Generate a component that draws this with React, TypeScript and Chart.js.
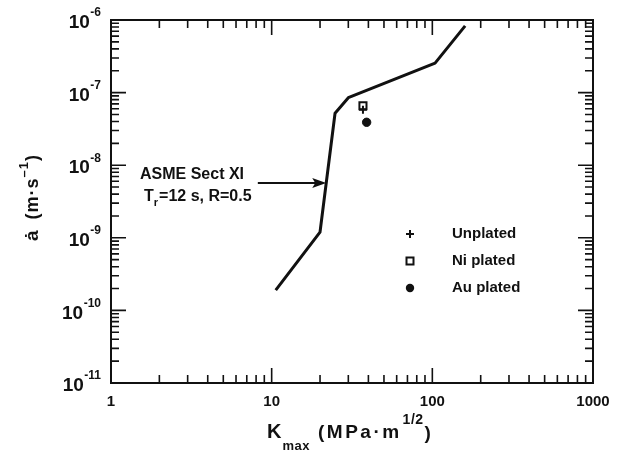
import { useEffect, useRef } from 'react';
import { Chart, registerables } from 'chart.js';

Chart.register(...registerables);

// ASME Sect XI reference curve: K_max (MPa·m^1/2) vs crack growth rate (m/s)
const curveK = [10.6, 20, 24.8, 30, 104, 160];
const curveRate = [1.9e-10, 1.2e-9, 5.2e-8, 8.5e-8, 2.55e-7, 8.3e-7];

// Measured specimens
const unplatedK = [37];
const unplatedRate = [5.8e-8];
const niPlatedK = [37];
const niPlatedRate = [6.6e-8];
const auPlatedK = [39];
const auPlatedRate = [3.9e-8];

// Axis ticks
const xTickValues = [1, 10, 100, 1000];
const xTickLabels = ['1', '10', '100', '1000'];
const yTickExponents = [-6, -7, -8, -9, -10, -11];

const legendLabels = ['Unplated', 'Ni plated', 'Au plated'];
const noteTitle = 'ASME Sect XI';
const noteArrowRate = 5.7e-9;
const noteArrowFromK = 8.2;

const FAMILY = '"Liberation Sans", Arial, Helvetica, sans-serif';
const bold = (size: number) => `bold ${size}px ${FAMILY}`;
const INK = '#111';

const pts = (xs: number[], ys: number[]) => xs.map((x, i) => ({ x, y: ys[i] }));

// K value where the curve crosses a given rate (log-log interpolation)
function curveKAt(rate: number): number {
  const ly = Math.log10(rate);
  for (let i = 0; i < curveK.length - 1; i++) {
    const a = Math.log10(curveRate[i]);
    const b = Math.log10(curveRate[i + 1]);
    if (ly >= a && ly <= b) {
      const t = (ly - a) / (b - a);
      const lx = Math.log10(curveK[i]) + t * (Math.log10(curveK[i + 1]) - Math.log10(curveK[i]));
      return Math.pow(10, lx);
    }
  }
  return curveK[0];
}

const figurePlugin = {
  id: 'figureOverlay',
  afterDatasetsDraw(chart: any) {
    const { ctx, chartArea: a, scales } = chart;
    const xs = scales.x;
    const ys = scales.y;
    ctx.save();

    // frame
    ctx.strokeStyle = INK;
    ctx.lineWidth = 2;
    ctx.strokeRect(a.left, a.top, a.right - a.left, a.bottom - a.top);

    // inward ticks on all four sides
    const MAJOR = 15;
    const MINOR = 8;
    ctx.lineWidth = 1.6;
    const xTick = (v: number, len: number) => {
      const px = xs.getPixelForValue(v);
      ctx.beginPath();
      ctx.moveTo(px, a.bottom);
      ctx.lineTo(px, a.bottom - len);
      ctx.moveTo(px, a.top);
      ctx.lineTo(px, a.top + len);
      ctx.stroke();
    };
    const yTick = (v: number, len: number) => {
      const py = ys.getPixelForValue(v);
      ctx.beginPath();
      ctx.moveTo(a.left, py);
      ctx.lineTo(a.left + len, py);
      ctx.moveTo(a.right, py);
      ctx.lineTo(a.right - len, py);
      ctx.stroke();
    };
    for (let d = 0; d < 3; d++) {
      xTick(Math.pow(10, d), MAJOR);
      for (let m = 2; m <= 9; m++) xTick(m * Math.pow(10, d), MINOR);
    }
    for (let e = -11; e < -6; e++) {
      yTick(Math.pow(10, e), MAJOR);
      for (let m = 2; m <= 9; m++) yTick(m * Math.pow(10, e), MINOR);
    }

    ctx.fillStyle = INK;

    // x tick labels
    ctx.font = bold(15);
    ctx.textAlign = 'center';
    ctx.textBaseline = 'middle';
    xTickValues.forEach((v, i) => {
      ctx.fillText(xTickLabels[i], xs.getPixelForValue(v), 402);
    });

    // y tick labels: 10 with superscript exponent
    yTickExponents.forEach((e) => {
      const py = ys.getPixelForValue(Math.pow(10, e));
      const exp = '-' + String(-e);
      ctx.font = bold(12);
      const ew = ctx.measureText(exp).width;
      ctx.textAlign = 'right';
      ctx.fillText(exp, 101, py - 7);
      ctx.font = bold(19);
      ctx.fillText('10', 101 - ew - 0.5, py + 3);
    });

    // x axis title: K_max (MPa·m^1/2)
    ctx.textAlign = 'left';
    ctx.font = bold(20);
    ctx.fillText('K', 267, 432);
    let cx = 267 + ctx.measureText('K').width + 1;
    ctx.font = bold(13);
    ctx.letterSpacing = '0.5px';
    ctx.fillText('max', cx, 446);
    ctx.font = bold(19);
    ctx.letterSpacing = '2.5px';
    cx = 318;
    ctx.fillText('(MPa·m', cx, 433);
    cx += ctx.measureText('(MPa·m').width + 1;
    ctx.font = bold(14);
    ctx.letterSpacing = '0.5px';
    ctx.fillText('1/2', cx, 420);
    cx += ctx.measureText('1/2').width + 1;
    ctx.font = bold(19);
    ctx.letterSpacing = '0px';
    ctx.fillText(')', cx, 434);

    // y axis title (rotated): ȧ (m·s^-1)
    ctx.save();
    ctx.translate(31, 241);
    ctx.rotate(-Math.PI / 2);
    ctx.textAlign = 'left';
    ctx.textBaseline = 'middle';
    let rx = 0;
    ctx.font = bold(19);
    ctx.fillText('ȧ', rx, 2);
    rx += ctx.measureText('ȧ').width + 11;
    ctx.font = bold(18);
    ctx.letterSpacing = '1px';
    ctx.fillText('(m·s', rx, 2);
    rx += ctx.measureText('(m·s').width;
    ctx.font = bold(13);
    ctx.fillText('–1', rx, -7);
    rx += ctx.measureText('–1').width;
    ctx.font = bold(18);
    ctx.fillText(')', rx, 2);
    ctx.letterSpacing = '0px';
    ctx.restore();

    // annotation with arrow onto the curve
    ctx.font = bold(16);
    ctx.textAlign = 'left';
    ctx.textBaseline = 'middle';
    ctx.fillText(noteTitle, 140, 175);
    ctx.fillText('T', 144, 197);
    let tx = 144 + ctx.measureText('T').width;
    ctx.font = bold(11);
    ctx.fillText('r', tx, 203);
    tx += ctx.measureText('r').width + 1;
    ctx.font = bold(16);
    ctx.fillText('=12 s, R=0.5', tx, 197);

    const ay = ys.getPixelForValue(noteArrowRate);
    const ax0 = xs.getPixelForValue(noteArrowFromK);
    const ax1 = xs.getPixelForValue(curveKAt(noteArrowRate));
    ctx.lineWidth = 2;
    ctx.beginPath();
    ctx.moveTo(ax0, ay);
    ctx.lineTo(ax1 - 8, ay);
    ctx.stroke();
    ctx.beginPath();
    ctx.moveTo(ax1, ay);
    ctx.lineTo(ax1 - 14, ay - 5);
    ctx.lineTo(ax1 - 11, ay);
    ctx.lineTo(ax1 - 14, ay + 5);
    ctx.closePath();
    ctx.fill();

    // legend
    const lx = 410;
    const rows = [234, 261, 288];
    ctx.lineWidth = 2;
    ctx.beginPath();
    ctx.moveTo(lx - 4, rows[0]);
    ctx.lineTo(lx + 4, rows[0]);
    ctx.moveTo(lx, rows[0] - 4);
    ctx.lineTo(lx, rows[0] + 4);
    ctx.stroke();
    ctx.strokeRect(lx - 3.5, rows[1] - 3.5, 7, 7);
    ctx.beginPath();
    ctx.arc(lx, rows[2], 4.2, 0, Math.PI * 2);
    ctx.fill();
    ctx.font = bold(15);
    ctx.textAlign = 'left';
    legendLabels.forEach((t, i) => ctx.fillText(t, 452, rows[i]));

    ctx.restore();
  },
};

export default function App() {
  const canvasRef = useRef<HTMLCanvasElement | null>(null);

  useEffect(() => {
    const canvas = canvasRef.current;
    if (!canvas) return;
    const chart = new Chart(canvas, {
      type: 'scatter',
      data: {
        datasets: [
          {
            label: 'ASME Sect XI',
            data: pts(curveK, curveRate),
            showLine: true,
            borderColor: INK,
            borderWidth: 3,
            pointRadius: 0,
            tension: 0,
            borderJoinStyle: 'round',
          },
          {
            label: 'Unplated',
            data: pts(unplatedK, unplatedRate),
            pointStyle: 'cross',
            pointRadius: 4,
            borderColor: INK,
            borderWidth: 2,
          },
          {
            label: 'Ni plated',
            data: pts(niPlatedK, niPlatedRate),
            pointStyle: 'rect',
            pointRadius: 5,
            backgroundColor: '#fff',
            borderColor: INK,
            borderWidth: 2,
          },
          {
            label: 'Au plated',
            data: pts(auPlatedK, auPlatedRate),
            pointStyle: 'circle',
            pointRadius: 4.2,
            backgroundColor: INK,
            borderColor: INK,
            borderWidth: 1,
          },
        ],
      },
      options: {
        animation: false,
        responsive: true,
        maintainAspectRatio: false,
        layout: { padding: { left: 111, top: 20, right: 25, bottom: 67 } },
        plugins: { legend: { display: false }, tooltip: { enabled: false } },
        scales: {
          x: { type: 'logarithmic', min: 1, max: 1000, display: false },
          y: { type: 'logarithmic', min: 1e-11, max: 1e-6, display: false },
        },
      },
      plugins: [figurePlugin],
    });
    return () => chart.destroy();
  }, []);

  return (
    <div style={{ position: 'fixed', left: 0, top: 0, width: 618, height: 450, background: '#fff' }}>
      <canvas ref={canvasRef} />
    </div>
  );
}
